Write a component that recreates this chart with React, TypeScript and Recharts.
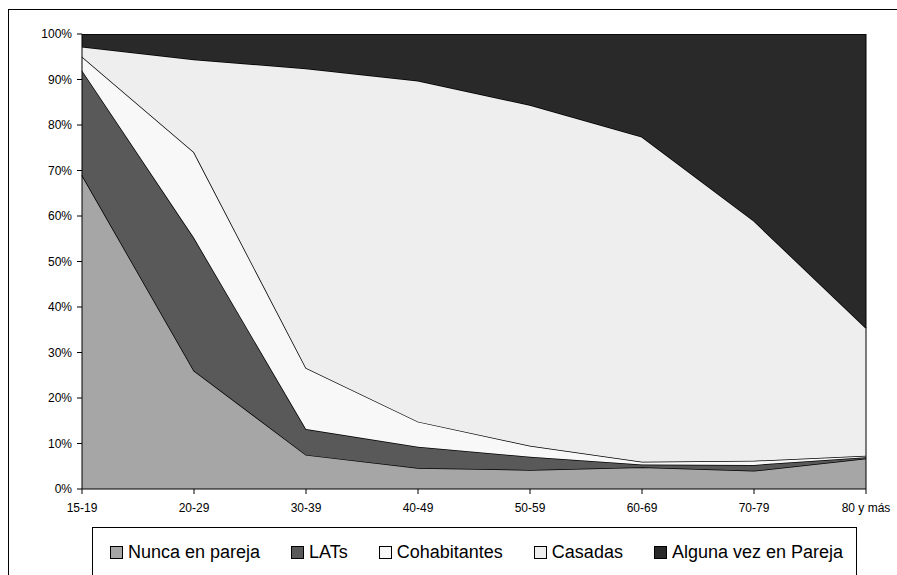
import { Area, AreaChart, ReferenceLine, XAxis, YAxis } from 'recharts';

const ageGroups = ['15-19', '20-29', '30-39', '40-49', '50-59', '60-69', '70-79', '80 y más'];

const nuncaEnPareja = [69, 26, 7.5, 4.6, 4.2, 4.8, 4.0, 6.7];
const lats = [23, 29.2, 5.7, 4.7, 2.9, 0.6, 1.3, 0.3];
const cohabitantes = [3, 18.8, 13.4, 5.5, 2.4, 0.6, 0.9, 0.3];
const casadas = [2.2, 20.4, 65.8, 74.9, 74.9, 71.4, 52.7, 28.1];
const algunaVez = [2.8, 5.6, 7.6, 10.3, 15.6, 22.6, 41.1, 64.6];

const yTicks = [0, 10, 20, 30, 40, 50, 60, 70, 80, 90, 100];

const series = [
  { key: 'nunca', name: 'Nunca en pareja', color: '#a6a6a6' },
  { key: 'lats', name: 'LATs', color: '#595959' },
  { key: 'cohab', name: 'Cohabitantes', color: '#f8f8f8' },
  { key: 'casadas', name: 'Casadas', color: '#eeeeee' },
  { key: 'alguna', name: 'Alguna vez en Pareja', color: '#292929' },
];

const data = ageGroups.map((age, i) => ({
  age,
  nunca: nuncaEnPareja[i],
  lats: lats[i],
  cohab: cohabitantes[i],
  casadas: casadas[i],
  alguna: algunaVez[i],
}));

const font = '"Liberation Sans", Arial, sans-serif';

function LegendBox() {
  return (
    <div
      style={{
        position: 'absolute',
        left: 83,
        top: 517,
        width: 765,
        height: 80,
        border: '1px solid #000',
        boxSizing: 'border-box',
        background: '#fff',
        fontFamily: font,
        fontSize: 18,
        color: '#000',
      }}
    >
      <div style={{ display: 'flex', alignItems: 'center', height: 48, paddingLeft: 17, gap: 31 }}>
        {series.map((s) => (
          <div key={s.key} style={{ display: 'flex', alignItems: 'center' }}>
            <span
              style={{
                display: 'inline-block',
                width: 11,
                height: 11,
                border: '1px solid #000',
                background: s.color,
                marginRight: 5,
              }}
            />
            <span>{s.name}</span>
          </div>
        ))}
      </div>
    </div>
  );
}

export default function App() {
  return (
    <>
      <style>{'body{margin:0;overflow:hidden;background:#fff}'}</style>
      <div
        style={{
          position: 'absolute',
          left: 8,
          top: 9,
          width: 889,
          height: 566,
          borderTop: '1px solid #000',
          borderLeft: '1px solid #000',
          boxSizing: 'border-box',
          overflow: 'hidden',
        }}
      >
        <AreaChart
          width={888}
          height={509}
          data={data}
          margin={{ top: 24, right: 31, bottom: 0, left: 0 }}
        >
          <XAxis
            dataKey="age"
            height={30}
            tickSize={5}
            tickMargin={9}
            axisLine={{ stroke: '#000' }}
            tickLine={{ stroke: '#000' }}
            tick={{ fontSize: 12, fill: '#000', fontFamily: font }}
            interval={0}
          />
          <YAxis
            width={73}
            domain={[0, 100]}
            allowDataOverflow
            ticks={yTicks}
            tickFormatter={(v: number) => `${v}%`}
            tickSize={5}
            tickMargin={5}
            axisLine={{ stroke: '#000' }}
            tickLine={{ stroke: '#000' }}
            tick={{ fontSize: 12, fill: '#000', fontFamily: font }}
          />
          {series.map((s) => (
            <Area
              key={s.key}
              type="linear"
              dataKey={s.key}
              name={s.name}
              stackId="1"
              fill={s.color}
              fillOpacity={1}
              stroke="#000"
              strokeWidth={1.5}
              dot={false}
              activeDot={false}
              isAnimationActive={false}
            />
          ))}
          <ReferenceLine x="80 y más" stroke="#000" strokeWidth={1} />
        </AreaChart>
        <LegendBox />
      </div>
    </>
  );
}
